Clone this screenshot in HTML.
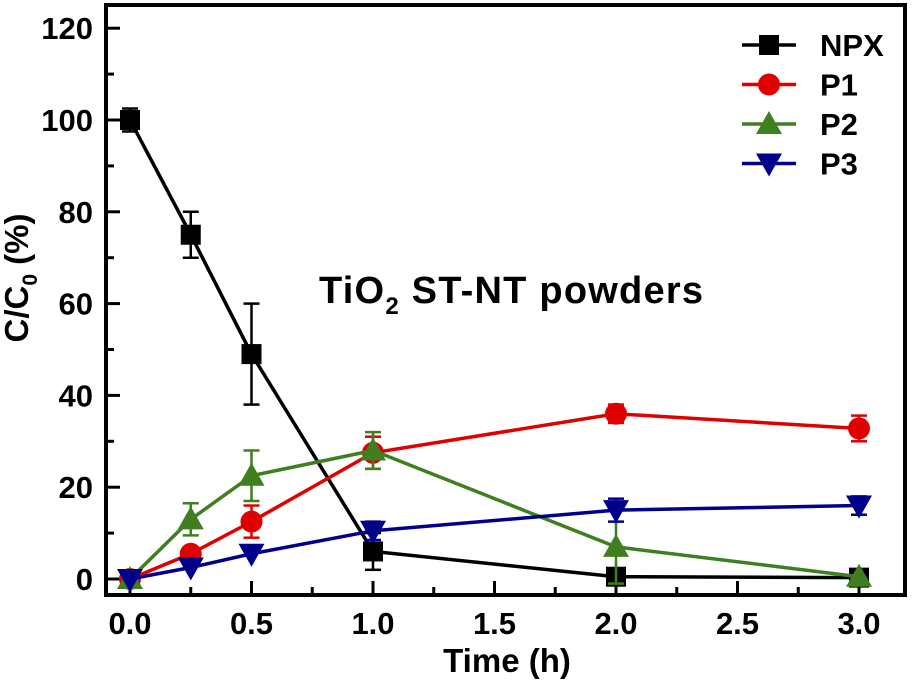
<!DOCTYPE html>
<html><head><meta charset="utf-8"><style>
body{margin:0;background:#fff}
svg{display:block;font-family:"Liberation Sans",Arial,sans-serif;font-weight:bold}
</style></head><body>
<svg id="c" width="914" height="688">
<g id="axes"></g><g id="series"></g>
<text x="319" y="303" font-size="38" textLength="384">TiO<tspan font-size="24" dy="11">2</tspan><tspan dy="-11"> ST-NT powders</tspan></text>
<text x="507" y="672" text-anchor="middle" font-size="33">Time (h)</text>
<text transform="translate(28,278) rotate(-90)" text-anchor="middle" font-size="33">C/C<tspan font-size="21" dy="9">0</tspan><tspan dy="-9"> (%)</tspan></text>
<g id="legend"></g>
</svg>
<script>
const xs=[0,0.25,0.5,1,2,3];
const npx=[100,75,49,6,0.5,0.3];
const npxErr=[2.5,5,11,4,0,0];
const p1=[0,5.5,12.5,27.5,36,32.8];
const p1Err=[0,0,3.5,3.5,2,2.8];
const p2=[0,13,22.5,28,7,0.5];
const p2Err=[0,3.5,5.5,4,8,0];
const p3=[0,2.5,5.5,10.5,15,16];
const p3Err=[0,0,0,2,2.5,2];
const xTicks=[0,0.5,1,1.5,2,2.5,3];
const yTicks=[0,20,40,60,80,100,120];
const names=["NPX","P1","P2","P3"];
const NS="http://www.w3.org/2000/svg";
const X=v=>130+v*243, Y=v=>579-v*4.59;
const L=106,R=905,T=5,B=595;
function mk(t,a,p){const e=document.createElementNS(NS,t);for(const k in a)e.setAttribute(k,a[k]);p.appendChild(e);return e;}
const ax=document.getElementById('axes');
const frame=mk('rect',{x:L,y:T,width:R-L,height:B-T,fill:'none',stroke:'#000','stroke-width':4},ax);


for(let i=0;i<=12;i++){const v=i*10,y=Y(v),len=i%2?8:14;mk('line',{x1:L,x2:L+len,y1:y,y2:y,stroke:'#000','stroke-width':3},ax);}
for(let i=0;i<=12;i++){const v=i*0.25,x=X(v),len=i%2?8:14;mk('line',{x1:x,x2:x,y1:B,y2:B-len,stroke:'#000','stroke-width':3},ax);}
yTicks.forEach(v=>{const t=mk('text',{x:L-13,y:Y(v)+11,'text-anchor':'end','font-size':31},ax);t.textContent=v;

});
xTicks.forEach(v=>{const t=mk('text',{x:X(v),y:634,'text-anchor':'middle','font-size':31},ax);t.textContent=v.toFixed(1);

});
function marker(type,x,y,c,p){
 if(type==0)return mk('rect',{x:x-10,y:y-10,width:20,height:20,fill:c},p);
 if(type==1)return mk('circle',{cx:x,cy:y,r:11,fill:c},p);
 if(type==2)return mk('polygon',{points:`${x},${y-13} ${x-13},${y+10} ${x+13},${y+10}`,fill:c},p);
 return mk('polygon',{points:`${x},${y+13} ${x-13},${y-10} ${x+13},${y-10}`,fill:c},p);
}
const sg=document.getElementById('series');
const data=[[npx,npxErr,'#000'],[p1,p1Err,'#e00000'],[p2,p2Err,'#3f7f1f'],[p3,p3Err,'#00008b']];
data.forEach((d,si)=>{
 const g=mk('g',{},sg);
 
 
 const [v,e,c]=d;
 mk('polyline',{points:xs.map((x,i)=>X(x)+','+Y(v[i])).join(' '),fill:'none',stroke:c,'stroke-width':3.5},g);
 xs.forEach((x,i)=>{
  if(e[i]>0){const px=X(x);mk('line',{x1:px,x2:px,y1:Y(v[i]+e[i]),y2:Y(v[i]-e[i]),stroke:c,'stroke-width':2.5},g);
   [v[i]+e[i],v[i]-e[i]].forEach(w=>mk('line',{x1:px-8,x2:px+8,y1:Y(w),y2:Y(w),stroke:c,'stroke-width':2.5},g));}
  const m=marker(si,X(x),Y(v[i]),c,g);
  
  
 });
});
const lg=document.getElementById('legend');
names.forEach((n,i)=>{
 const y=45+i*39.5,c=data[i][2];
 const g=mk('g',{},lg);
 
 
 mk('line',{x1:742,x2:796,y1:y,y2:y,stroke:c,'stroke-width':3.5},g);
 marker(i,769,y,c,g);
 const t=mk('text',{x:820,y:y+11,'font-size':31},g);t.textContent=n;
});
</script>
</body></html>
